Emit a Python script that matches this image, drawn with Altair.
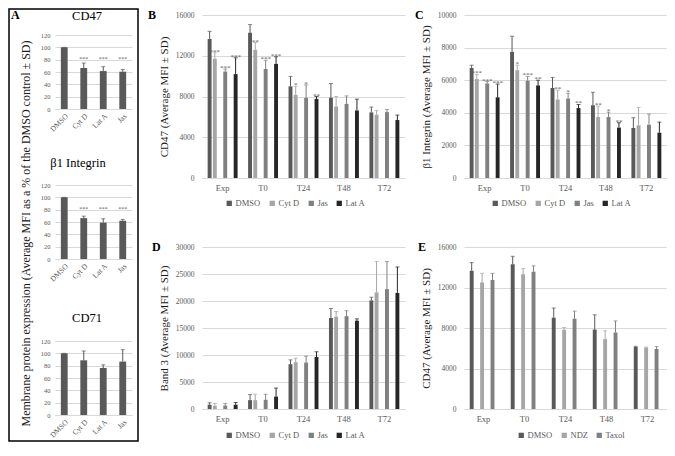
import altair as alt
import pandas as pd

SERIF = "Liberation Serif"
GRID = "#d9d9d9"
TXT = "#595959"

# ---------------- Panel A (percent of DMSO) ----------------
a_cats = ["DMSO", "Cyt D", "Lat A", "Jas"]
a_cd47 = [100, 66.5, 61.5, 60.5]
a_cd47_sd = [0, 8.0, 7.2, 3.5]
a_cd47_sig = ["", "***", "***", "***"]
a_b1 = [100, 66.3, 59.0, 62.0]
a_b1_sd = [0, 3.2, 6.3, 2.2]
a_b1_sig = ["", "***", "***", "***"]
a_cd71 = [100, 88.7, 76.2, 86.6]
a_cd71_sd = [0, 15.1, 5.2, 19.3]
a_cd71_sig = ["", "", "", ""]
a_ticks = [0, 20, 40, 60, 80, 100, 120]

# ---------------- Panels B-E ----------------
groups = ["Exp", "T0", "T24", "T48", "T72"]
actin_series = ["DMSO", "Cyt D", "Jas", "Lat A"]
actin_colors = ["#595959", "#a6a6a6", "#808080", "#262626"]
mt_series = ["DMSO", "NDZ", "Taxol"]
mt_colors = ["#595959", "#a6a6a6", "#808080"]

# B: CD47
b_vals = [
    [13650, 14250, 9000, 7870, 6440],
    [11700, 12600, 8160, 7020, 6210],
    [10450, 10700, 7870, 7280, 6470],
    [10200, 11200, 7770, 6630, 5690],
]
b_sd = [
    [750, 810, 970, 1400, 520],
    [600, 700, 840, 980, 420],
    [250, 850, 1270, 780, 260],
    [1600, 700, 230, 1110, 490],
]
b_sig = [
    ["", "", "", "", ""],
    ["***", "**", "*", "", ""],
    ["***", "***", "*", "", ""],
    ["***", "***", "**", "", ""],
]

# C: beta1 integrin
c_vals = [
    [6750, 7730, 5520, 4470, 3070],
    [6070, 6610, 4820, 3740, 3230],
    [5800, 5960, 4880, 3740, 3270],
    [4950, 5680, 4290, 3090, 2780],
]
c_sd = [
    [170, 970, 650, 790, 630],
    [280, 310, 570, 670, 1100],
    [120, 270, 320, 300, 650],
    [810, 320, 220, 300, 650],
]
c_sig = [
    ["", "", "", "", ""],
    ["***", "*", "**", "**", ""],
    ["***", "***", "*", "*", ""],
    ["***", "**", "**", "**", ""],
]

# D: Band 3
d_vals = [
    [790, 1640, 8300, 16850, 20100],
    [600, 1640, 8670, 17100, 21600],
    [650, 1700, 8600, 17200, 22200],
    [790, 2300, 9640, 16360, 21500],
]
d_sd = [
    [360, 1030, 800, 1750, 600],
    [430, 1090, 730, 960, 5700],
    [380, 1030, 1160, 1000, 5100],
    [410, 1580, 960, 340, 4800],
]
d_sig = [["", "", "", "", ""]] * 4

# E: CD47 with microtubule drugs
e_vals = [
    [13650, 14300, 9020, 7850, 6120],
    [12500, 13300, 7820, 6900, 6060],
    [12740, 13550, 8920, 7560, 5930],
]
e_sd = [
    [810, 780, 950, 1450, 70],
    [900, 570, 230, 820, 60],
    [650, 590, 750, 1140, 230],
]
e_sig = [["", "", "", "", ""]] * 3


def long_df(series, vals, sds, sigs):
    rows = []
    for s, vl, sl, gl in zip(series, vals, sds, sigs):
        for g, v, sd, sg in zip(groups, vl, sl, gl):
            rows.append({"grp": g, "ser": s, "val": v, "hi": v + sd, "sig": sg})
    return pd.DataFrame(rows)


def label_layer(text, x, y, size, weight, align="left"):
    return alt.Chart(pd.DataFrame({"t": [text]})).mark_text(
        fontSize=size, fontWeight=weight, font=SERIF, color="black",
        align=align, baseline="middle").encode(
        text="t:N", x=alt.value(x), y=alt.value(y))


def grouped_panel(df, series, colors, ymax, ystep, ytitle, letter, w, h,
                  x_pad, off_pad, legend_x, legend_y, letter_dx):
    base = alt.Chart(df).encode(
        x=alt.X("grp:N", sort=groups,
                scale=alt.Scale(paddingInner=x_pad, paddingOuter=0.14),
                axis=alt.Axis(title=None, labelAngle=0, labelFontSize=8.5,
                              labelColor=TXT, labelPadding=5, domainColor=GRID,
                              ticks=False, grid=False)),
        xOffset=alt.XOffset("ser:N", sort=series,
                            scale=alt.Scale(paddingInner=off_pad)),
    )
    yvals = list(range(0, ymax + 1, ystep))
    yscale = alt.Scale(domain=[0, ymax], nice=False)
    color = alt.Color(
        "ser:N", sort=series, scale=alt.Scale(domain=series, range=colors),
        legend=alt.Legend(orient="none", legendX=legend_x, legendY=legend_y,
                          direction="horizontal", title=None, symbolType="square",
                          symbolSize=28, symbolStrokeWidth=0, labelFontSize=8.5,
                          labelColor=TXT, columnPadding=7, labelOffset=2))
    color_nl = alt.Color("ser:N", sort=series,
                         scale=alt.Scale(domain=series, range=colors), legend=None)
    bars = base.mark_bar().encode(
        y=alt.Y("val:Q", scale=yscale,
                axis=alt.Axis(values=yvals, tickCount=len(yvals), format="d",
                              title=ytitle, labelFontSize=7.5, labelColor=TXT,
                              labelPadding=8, labelOverlap=False, titleFontSize=11,
                              titleFontWeight="normal", titleColor="#1a1a1a",
                              titlePadding=6, domain=False, ticks=False,
                              gridColor=GRID)),
        color=color)
    rules = base.mark_rule(strokeWidth=1).encode(y="val:Q", y2="hi:Q", color=color_nl)
    caps = base.mark_tick(size=4, thickness=1, orient="horizontal").encode(
        y="hi:Q", color=color_nl)
    stars = base.mark_text(fontSize=7, color=TXT, baseline="alphabetic", dy=1).encode(
        y="hi:Q", text="sig:N")
    letter_mark = label_layer(letter, letter_dx, 0, 12, "bold")
    return alt.layer(bars, rules, caps, stars, letter_mark).properties(width=w, height=h)


def a_panel(title, vals, sds, sigs, title_x, title_y, h=74, top=0, ytitle=None,
            title_ypos=48, extra=()):
    df = pd.DataFrame({"cat": a_cats, "val": vals,
                       "hi": [v + s for v, s in zip(vals, sds)], "sig": sigs})
    base = alt.Chart(df).encode(
        x=alt.X("cat:N", sort=a_cats,
                scale=alt.Scale(paddingInner=0.65, paddingOuter=0.3),
                axis=alt.Axis(title=None, labelAngle=-45, labelFontSize=7.5,
                              labelColor=TXT, labelPadding=3, domainColor=GRID,
                              ticks=False, grid=False)))
    yaxis = alt.Axis(values=a_ticks, tickCount=len(a_ticks), title=ytitle,
                     labelFontSize=6.5, labelColor=TXT, labelPadding=5,
                     labelOverlap=False,
                     titleFontSize=12, titleFontWeight="normal", titleColor="#1a1a1a",
                     titlePadding=8, titleY=title_ypos, domain=False, ticks=False,
                     gridColor=GRID)
    bars = base.mark_bar(color="#595959").encode(
        y=alt.Y("val:Q", scale=alt.Scale(domain=[0, 120], nice=False, range=[h, top]),
                axis=yaxis))
    rules = base.mark_rule(color="#595959", strokeWidth=1).encode(y="val:Q", y2="hi:Q")
    caps = base.mark_tick(color="#595959", size=4, thickness=1,
                          orient="horizontal").encode(y="hi:Q")
    stars = base.mark_text(fontSize=6, color=TXT, baseline="middle").encode(
        y=alt.datum(81), text="sig:N")
    ttl = label_layer(title, title_x, title_y, 12.5, "normal", align="center")
    return alt.layer(*extra, bars, rules, caps, stars, ttl).properties(width=77, height=h)


# A1 has a 20px header zone on top of its 74px plot (aligns with panel B)
box = alt.Chart(pd.DataFrame({"t": [0]})).mark_rect(
    fillOpacity=0, stroke="black", strokeWidth=1.5).encode(
    x=alt.value(-46), x2=alt.value(83), y=alt.value(-6), y2=alt.value(426))
a_label = label_layer("A", -44, 0, 12, "bold")

A1 = a_panel("CD47", a_cd47, a_cd47_sd, a_cd47_sig, 32, 1, h=94, top=20,
             extra=(box, a_label))
A2 = a_panel("β1 Integrin", a_b1, a_b1_sd, a_b1_sig, 23, -22,
             ytitle="Membrane protein expression (Average MFI as a % of the DMSO control ± SD)")
A3 = a_panel("CD71", a_cd71, a_cd71_sd, a_cd71_sig, 32, -17, h=80, top=6)

colA = alt.vconcat(A1, A2, A3, spacing=76, bounds="flush")

B = grouped_panel(long_df(actin_series, b_vals, b_sd, b_sig), actin_series, actin_colors,
                  16000, 4000, "CD47 (Average MFI ± SD)", "B", 203, 163,
                  0.26, 0.25, 23, 184, -54)
C = grouped_panel(long_df(actin_series, c_vals, c_sd, c_sig), actin_series, actin_colors,
                  10000, 2000, "β1 Integrin (Average MFI ± SD)", "C", 203, 163,
                  0.26, 0.25, 27, 184, -49)
D = grouped_panel(long_df(actin_series, d_vals, d_sd, d_sig), actin_series, actin_colors,
                  30000, 5000, "Band 3 (Average MFI ± SD)", "D", 203, 162,
                  0.26, 0.25, 23, 184, -50)
E = grouped_panel(long_df(mt_series, e_vals, e_sd, e_sig), mt_series, mt_colors,
                  16000, 4000, "CD47 (Average MFI ± SD)", "E", 203, 162,
                  0.33, 0.22, 53, 184, -46)

BC = alt.hconcat(B, C, spacing=59, bounds="flush").resolve_scale(
    color="independent").resolve_legend(color="independent")
DE = alt.hconcat(D, E, spacing=59, bounds="flush").resolve_scale(
    color="independent").resolve_legend(color="independent")
right = alt.vconcat(BC, DE, spacing=33).resolve_scale(
    color="independent").resolve_legend(color="independent")

chart = alt.hconcat(colA, right, spacing=9).resolve_scale(
    color="independent").resolve_legend(color="independent").properties(
    padding=0).configure_view(stroke=None).configure_axis(
    labelFont=SERIF, titleFont=SERIF).configure_legend(
    labelFont=SERIF).configure_text(font=SERIF)

chart.save("out.html", embed_options={"renderer": "svg", "actions": False})
